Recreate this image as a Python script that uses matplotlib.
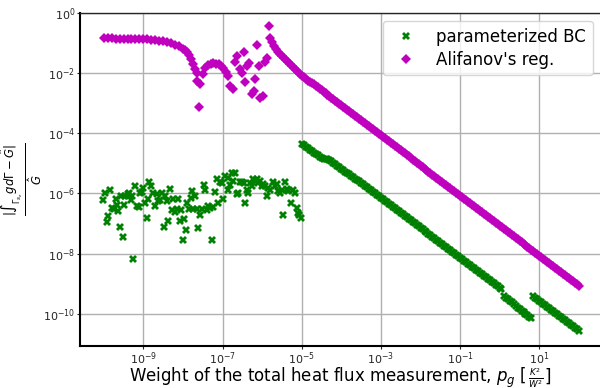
import numpy as np
import matplotlib
matplotlib.use("Agg")
import matplotlib.pyplot as plt
from matplotlib.ticker import LogFormatterSciNotation, NullLocator
from matplotlib.offsetbox import TextArea, HPacker, AnchoredOffsetbox

# ---------------- data (log10 values) ----------------
# parameterized BC: scattered part
green_scatter_lx = [-10.01, -9.97, -9.92, -9.88, -9.84, -9.80, -9.74, -9.69, -9.67, -9.63,
                    -9.59, -9.57, -9.52, -9.49, -9.46, -9.40, -9.38, -9.35, -9.32, -9.29,
                    -9.25, -9.21, -9.17, -9.12, -9.08, -9.04, -9.00, -8.96, -8.92, -8.87,
                    -8.85, -8.81, -8.76, -8.70, -8.66, -8.62, -8.58, -8.54, -8.49, -8.45,
                    -8.41, -8.37, -8.33, -8.28, -8.24, -8.20, -8.16, -8.12, -8.07, -8.06,
                    -8.01, -7.97, -7.92, -7.89, -7.84, -7.80, -7.78, -7.74, -7.69, -7.65,
                    -7.61, -7.57, -7.53, -7.48, -7.44, -7.40, -7.36, -7.32, -7.27, -7.23,
                    -7.19, -7.15, -7.11, -7.06, -7.02, -7.00, -6.94, -6.85, -6.85, -6.81,
                    -6.77, -6.73, -6.68, -6.64, -6.60, -6.56, -6.52, -6.47, -6.43, -6.39,
                    -6.35, -6.31, -6.26, -6.22, -6.18, -6.14, -6.10, -6.05, -6.01, -5.97,
                    -5.93, -5.88, -5.84, -5.80, -5.72, -5.67, -5.63, -5.59, -5.55, -5.51,
                    -5.48, -5.42, -5.38, -5.34, -5.28, -5.23, -5.17, -5.13, -5.09, -5.06,
                    -5.02]
green_scatter_ly = [-6.22, -5.98, -6.96, -6.76, -5.89, -6.48, -6.51, -6.18, -6.37, -6.57,
                    -7.11, -6.09, -7.44, -6.37, -6.07, -6.03, -6.09, -5.98, -6.20, -6.09,
                    -8.18, -5.76, -6.42, -6.44, -5.98, -5.96, -5.81, -6.31, -6.81, -6.18,
                    -5.62, -5.76, -5.98, -6.42, -6.03, -6.26, -6.20, -5.98, -7.11, -6.09,
                    -6.26, -6.92, -5.84, -6.56, -6.18, -6.62, -6.53, -6.18, -6.92, -6.56,
                    -7.53, -6.84, -7.22, -6.33, -6.53, -6.14, -5.92, -6.53, -6.09, -6.53,
                    -7.14, -6.73, -6.53, -5.73, -5.89, -6.56, -6.42, -6.48, -7.56, -6.44,
                    -5.96, -5.51, -6.31, -5.62, -5.64, -6.18, -5.42, -5.48, -5.87, -5.73,
                    -5.33, -5.59, -5.31, -6.03, -5.98, -5.62, -5.62, -5.64, -6.33, -5.87,
                    -5.98, -5.64, -5.76, -5.51, -5.59, -5.53, -5.64, -5.59, -5.76, -5.70,
                    -5.76, -6.09, -5.81, -5.87, -5.62, -5.76, -5.67, -5.92, -5.98, -5.87,
                    -6.70, -5.62, -5.84, -5.92, -6.31, -5.89, -6.00, -6.48, -6.64, -6.73,
                    -6.81]

# parameterized BC: straight segments
green_line_lx = [-5.00, -4.95, -4.90, -4.85, -4.80, -4.75, -4.70, -4.65, -4.60, -4.55,
                 -4.50, -4.45, -4.40, -4.35, -4.30, -4.25, -4.20, -4.15, -4.10, -4.05,
                 -4.00, -3.95, -3.90, -3.85, -3.80, -3.75, -3.70, -3.65, -3.60, -3.55,
                 -3.50, -3.45, -3.40, -3.35, -3.30, -3.25, -3.20, -3.15, -3.10, -3.05,
                 -3.00, -2.95, -2.90, -2.85, -2.80, -2.75, -2.70, -2.65, -2.60, -2.55,
                 -2.50, -2.45, -2.40, -2.35, -2.30, -2.25, -2.20, -2.15, -2.10, -2.05,
                 -2.00, -1.95, -1.90, -1.85, -1.80, -1.75, -1.70, -1.65, -1.60, -1.55,
                 -1.50, -1.45, -1.40, -1.35, -1.30, -1.25, -1.20, -1.15, -1.10, -1.05,
                 -1.00, -0.95, -0.90, -0.85, -0.80, -0.75, -0.70, -0.65, -0.60, -0.55,
                 -0.50, -0.45, -0.40, -0.35, -0.30, -0.25, -0.20, -0.15, -0.10, -0.05,
                 0.00, 0.03,
                 0.10, 0.15, 0.20, 0.25, 0.30, 0.35, 0.40, 0.45, 0.50, 0.55,
                 0.60, 0.65, 0.70, 0.75, 0.78,
                 0.85, 0.90, 0.95, 1.00, 1.05, 1.10, 1.15, 1.20, 1.25, 1.30,
                 1.35, 1.40, 1.45, 1.50, 1.55, 1.60, 1.65, 1.70, 1.75, 1.80,
                 1.85, 1.90, 1.95, 2.00]
green_line_ly = [-4.35, -4.40, -4.45, -4.50, -4.54, -4.59, -4.64, -4.69, -4.73, -4.78,
                 -4.82, -4.84, -4.85, -4.86, -4.88, -4.93, -4.98, -5.03, -5.07, -5.12,
                 -5.17, -5.22, -5.27, -5.31, -5.36, -5.41, -5.46, -5.51, -5.56, -5.60,
                 -5.65, -5.70, -5.75, -5.80, -5.85, -5.90, -5.95, -5.99, -6.04, -6.09,
                 -6.14, -6.19, -6.24, -6.29, -6.34, -6.39, -6.44, -6.49, -6.54, -6.59,
                 -6.64, -6.69, -6.74, -6.79, -6.84, -6.89, -6.94, -6.99, -7.04, -7.09,
                 -7.14, -7.19, -7.24, -7.29, -7.34, -7.39, -7.44, -7.49, -7.54, -7.59,
                 -7.64, -7.69, -7.74, -7.79, -7.84, -7.89, -7.94, -7.99, -8.04, -8.09,
                 -8.14, -8.19, -8.24, -8.29, -8.34, -8.39, -8.44, -8.49, -8.54, -8.59,
                 -8.64, -8.69, -8.74, -8.79, -8.84, -8.89, -8.94, -8.99, -9.04, -9.09,
                 -9.14, -9.17,
                 -9.40, -9.46, -9.51, -9.57, -9.62, -9.68, -9.73, -9.79, -9.84, -9.90,
                 -9.95, -10.00, -10.05, -10.11, -10.14,
                 -9.42, -9.47, -9.52, -9.57, -9.62, -9.67, -9.72, -9.77, -9.82, -9.87,
                 -9.92, -9.97, -10.02, -10.07, -10.12, -10.17, -10.22, -10.27, -10.32, -10.37,
                 -10.42, -10.47, -10.52, -10.57]

# Alifanov's regularization
magenta_lx = [-10.0, -9.9, -9.8, -9.7, -9.6, -9.5, -9.4, -9.3, -9.2, -9.1,
              -9.0, -8.9, -8.8, -8.7, -8.6, -8.5, -8.4, -8.3, -8.2, -8.1,
              -8.0, -7.95, -7.9, -7.85, -7.8, -7.75, -7.7, -7.65,
              -7.64, -7.59, -7.57, -7.50, -7.44, -7.36, -7.30, -7.23, -7.16, -7.10,
              -7.04, -6.98, -6.92, -6.85,
              -6.81, -6.74, -6.68, -6.63, -6.47, -6.57, -6.52, -6.39, -6.32, -6.43,
              -6.18, -6.26, -6.20, -5.99, -6.05, -6.12, -6.07, -5.93, -5.87, -5.83,
              -5.80, -5.75, -5.70, -5.65, -5.60, -5.55, -5.50, -5.45, -5.40, -5.35,
              -5.30, -5.25, -5.20, -5.15, -5.10, -5.05, -5.00, -4.95, -4.90, -4.85,
              -4.80, -4.75, -4.70, -4.65,
              -4.60, -4.55, -4.50, -4.45, -4.40, -4.35, -4.30, -4.25, -4.20, -4.15,
              -4.10, -4.05, -4.00, -3.95, -3.90, -3.85, -3.80, -3.75, -3.70, -3.65,
              -3.60, -3.55, -3.50, -3.45, -3.40, -3.35, -3.30, -3.25, -3.20, -3.15,
              -3.10, -3.05, -3.00, -2.95, -2.90, -2.85, -2.80, -2.75, -2.70, -2.65,
              -2.60, -2.55, -2.50, -2.45, -2.40, -2.35, -2.30, -2.25, -2.20, -2.15,
              -2.10, -2.05, -2.00, -1.95, -1.90, -1.85, -1.80, -1.75, -1.70, -1.65,
              -1.60, -1.55, -1.50, -1.45, -1.40, -1.35, -1.30, -1.25, -1.20, -1.15,
              -1.10, -1.05, -1.00, -0.95, -0.90, -0.85, -0.80, -0.75, -0.70, -0.65,
              -0.60, -0.55, -0.50, -0.45, -0.40, -0.35, -0.30, -0.25, -0.20, -0.15,
              -0.10, -0.05, 0.00, 0.05, 0.10, 0.15, 0.20, 0.25, 0.30, 0.35,
              0.40, 0.45, 0.50, 0.55, 0.60, 0.65, 0.70, 0.75, 0.80, 0.85,
              0.90, 0.95, 1.00, 1.05, 1.10, 1.15, 1.20, 1.25, 1.30, 1.35,
              1.40, 1.45, 1.50, 1.55, 1.60, 1.65, 1.70, 1.75, 1.80, 1.85,
              1.90, 1.95, 2.00]
magenta_ly = [-0.84, -0.84, -0.84, -0.85, -0.85, -0.85, -0.85, -0.86, -0.86, -0.86,
              -0.87, -0.88, -0.89, -0.90, -0.92, -0.94, -0.97, -1.00, -1.05, -1.11,
              -1.19, -1.24, -1.30, -1.40, -1.53, -1.68, -1.85, -1.98,
              -2.26, -3.14, -2.37, -2.03, -1.84, -1.73, -1.69, -1.67, -1.68, -1.70,
              -1.76, -1.84, -1.95, -2.09,
              -2.42, -2.53, -1.64, -1.44, -1.31, -1.87, -1.98, -1.76, -1.67, -2.31,
              -2.20, -2.70, -2.59, -2.76, -2.84, -1.07, -1.76, -1.62, -1.51, -0.44,
              -0.84, -0.97, -1.10, -1.20, -1.30, -1.37, -1.44, -1.50, -1.56, -1.63,
              -1.70, -1.77, -1.84, -1.90, -1.96, -2.02, -2.08, -2.14, -2.20, -2.25,
              -2.30, -2.33, -2.37, -2.42,
              -2.47, -2.52, -2.57, -2.62, -2.67, -2.72, -2.77, -2.82, -2.87, -2.92,
              -2.97, -3.02, -3.07, -3.12, -3.17, -3.22, -3.27, -3.32, -3.37, -3.42,
              -3.47, -3.52, -3.57, -3.62, -3.67, -3.72, -3.77, -3.82, -3.87, -3.92,
              -3.97, -4.02, -4.07, -4.12, -4.17, -4.22, -4.27, -4.32, -4.37, -4.42,
              -4.47, -4.52, -4.57, -4.62, -4.67, -4.72, -4.77, -4.82, -4.87, -4.92,
              -4.97, -5.02, -5.07, -5.12, -5.17, -5.22, -5.27, -5.32, -5.37, -5.42,
              -5.47, -5.52, -5.57, -5.62, -5.67, -5.72, -5.77, -5.82, -5.87, -5.92,
              -5.97, -6.02, -6.07, -6.12, -6.17, -6.22, -6.27, -6.32, -6.37, -6.42,
              -6.47, -6.52, -6.57, -6.62, -6.67, -6.72, -6.77, -6.82, -6.87, -6.92,
              -6.97, -7.02, -7.07, -7.12, -7.17, -7.22, -7.27, -7.32, -7.37, -7.42,
              -7.47, -7.52, -7.57, -7.62, -7.67, -7.72, -7.77, -7.82, -7.87, -7.92,
              -7.97, -8.02, -8.07, -8.12, -8.17, -8.22, -8.27, -8.32, -8.37, -8.42,
              -8.47, -8.52, -8.57, -8.62, -8.67, -8.72, -8.77, -8.82, -8.87, -8.92,
              -8.97, -9.02, -9.07]

series_labels = ["parameterized BC", "Alifanov's reg."]
x_tick_exponents = [-9, -7, -5, -3, -1, 1]
y_tick_exponents = [-10, -8, -6, -4, -2, 0]

# ---------------- figure ----------------
fig = plt.figure(figsize=(6.0, 3.88), dpi=100)
ax = fig.add_axes([0.1333, 0.1082, 0.8712, 0.8583])

green_x = 10.0 ** np.array(green_scatter_lx + green_line_lx)
green_y = 10.0 ** np.array(green_scatter_ly + green_line_ly)
mag_x = 10.0 ** np.array(magenta_lx)
mag_y = 10.0 ** np.array(magenta_ly)

ax.plot(green_x, green_y, linestyle="none", marker="X", color="green",
        markersize=5.8, markeredgewidth=0.0, label=series_labels[0], zorder=3)
ax.plot(mag_x, mag_y, linestyle="none", marker="D", color="m",
        markersize=5.0, markeredgewidth=0.0, label=series_labels[1], zorder=3)

ax.set_xscale("log")
ax.set_yscale("log")
ax.set_xlim(10 ** -10.6, 10 ** 2.6)
ax.set_ylim(10 ** -11.07, 10 ** 0.0)

ax.set_xticks([10.0 ** e for e in x_tick_exponents])
ax.set_yticks([10.0 ** e for e in y_tick_exponents])
ax.xaxis.set_minor_locator(NullLocator())
ax.yaxis.set_minor_locator(NullLocator())
ax.xaxis.set_major_formatter(LogFormatterSciNotation())
ax.yaxis.set_major_formatter(LogFormatterSciNotation())

ax.grid(True, color="#b0b0b0", linewidth=1.0, zorder=0)
ax.set_axisbelow(True)
ax.tick_params(axis="both", which="major", labelsize=8, length=2.5, width=0.8,
               colors="#262626", pad=0.8)
for side in ("left", "bottom"):
    ax.spines[side].set_linewidth(1.5)
    ax.spines[side].set_color("black")
ax.spines["top"].set_linewidth(1.0)
ax.spines["top"].set_color("#262626")

# x label: main text at 12 pt, unit fraction slightly smaller (as in the reference)
xl_main = TextArea(r"Weight of the total heat flux measurement, $p_g$ [",
                   textprops=dict(fontsize=12))
xl_frac = TextArea(r"$\frac{K^2}{W^2}$", textprops=dict(fontsize=9))
xl_end = TextArea("]", textprops=dict(fontsize=12))
xl_box = HPacker(children=[xl_main, xl_frac, xl_end], align="baseline", pad=0, sep=1)
xl_anchor = AnchoredOffsetbox(loc="upper center", child=xl_box, pad=0, borderpad=0,
                              frameon=False, bbox_to_anchor=(0.497, -0.059),
                              bbox_transform=ax.transAxes)
ax.add_artist(xl_anchor)

ax.set_ylabel(r"$\frac{|\int_{\Gamma_{s_e}} g d\Gamma - \hat{G}|}{\hat{G}}$",
              fontsize=12)
ax.yaxis.set_label_coords(-0.066, 0.5)

leg = ax.legend(loc="upper right", fontsize=12, numpoints=1, handlelength=2.0,
                borderpad=0.4, labelspacing=0.3, framealpha=0.8, borderaxespad=0.0,
                bbox_to_anchor=(0.981, 0.976))
leg.get_frame().set_edgecolor("#cccccc")

fig.savefig("out.png", dpi=100)
